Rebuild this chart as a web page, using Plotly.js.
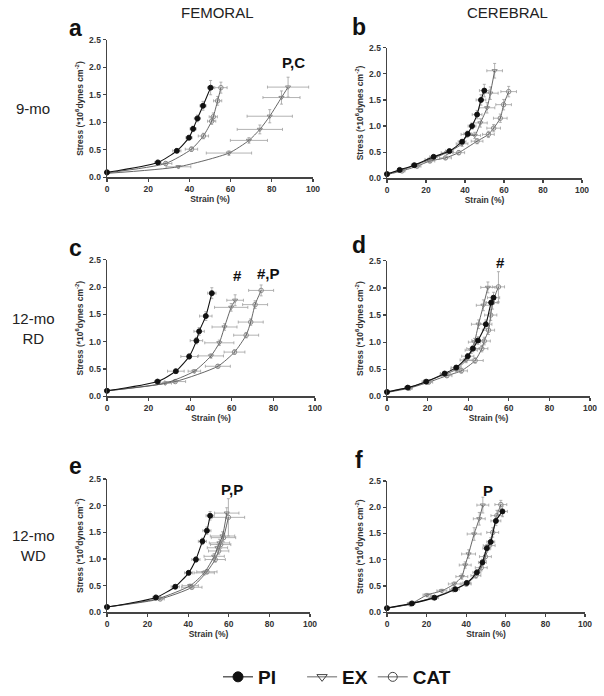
<!DOCTYPE html>
<html>
<head>
<meta charset="utf-8">
<script src="https://cdn.plot.ly/plotly-3.0.1.min.js"></script>
<style>html,body{margin:0;padding:0;background:#fff;}#chart{width:604px;height:696px;}</style>
</head>
<body>
<div id="chart"></div>
<script>
// ---------- axis ticks ----------
const xTickVals = [0, 20, 40, 60, 80, 100];
const yTickVals = [0, 0.5, 1, 1.5, 2, 2.5];
const yTickText = ['0.0', '0.5', '1.0', '1.5', '2.0', '2.5'];
const groupNames = ['PI', 'EX', 'CAT'];
const panelLetters = ['a', 'b', 'c', 'd', 'e', 'f'];
const columnTitles = ['FEMORAL', 'CEREBRAL'];
const rowTitles = ['9-mo', '12-mo<br>RD', '12-mo<br>WD'];

// ---------- a: femoral 9-mo ----------
const a_PI_x  = [0, 24.7, 33.9, 39.8, 41.8, 43.9, 46.6, 50.3];
const a_PI_y  = [0.09, 0.27, 0.48, 0.72, 0.88, 1.07, 1.30, 1.63];
const a_PI_ex = [0, 1.5, 2, 1.5, 1.5, 1.5, 1.5, 1.5];
const a_PI_ey = [0, 0.02, 0.03, 0.04, 0.05, 0.06, 0.08, 0.13];
const a_EX_x  = [0, 34.7, 59.2, 68.9, 74.2, 79, 84.7, 87.9];
const a_EX_y  = [0.07, 0.19, 0.44, 0.67, 0.87, 1.11, 1.45, 1.64];
const a_EX_ex = [0, 6, 11, 9, 11, 11, 9, 10];
const a_EX_ey = [0, 0.02, 0.04, 0.05, 0.08, 0.12, 0.12, 0.18];
const a_CAT_x  = [0, 28.5, 41, 46.8, 50.8, 51.6, 53.7, 55.3];
const a_CAT_y  = [0.08, 0.25, 0.51, 0.75, 1.02, 1.10, 1.39, 1.63];
const a_CAT_ex = [0, 3, 3, 2.5, 2, 2, 2, 3];
const a_CAT_ey = [0, 0.03, 0.04, 0.05, 0.06, 0.07, 0.08, 0.1];

// ---------- b: cerebral 9-mo ----------
const b_PI_x  = [0, 6.5, 14, 23.9, 32, 38.5, 41.4, 43.6, 46.2, 48.2, 49.9];
const b_PI_y  = [0.08, 0.16, 0.25, 0.41, 0.52, 0.70, 0.85, 1.0, 1.22, 1.50, 1.68];
const b_PI_ex = [0, 1, 1.5, 2, 2, 2, 2, 2, 2.5, 2.5, 2.5];
const b_PI_ey = [0, 0.02, 0.02, 0.03, 0.03, 0.04, 0.05, 0.06, 0.08, 0.1, 0.12];
const b_EX_x  = [0, 7.7, 14.5, 22, 30.8, 38.5, 41, 45, 47.9, 51.3, 53, 55.2];
const b_EX_y  = [0.08, 0.16, 0.25, 0.36, 0.49, 0.66, 0.84, 0.82, 1.06, 1.35, 1.63, 2.06];
const b_EX_ex = [0, 1.5, 2, 2.5, 3, 3, 3, 3, 3.5, 4, 4, 4];
const b_EX_ey = [0, 0.02, 0.03, 0.03, 0.04, 0.05, 0.06, 0.06, 0.08, 0.1, 0.12, 0.14];
const b_CAT_x  = [0, 7.7, 15.4, 22, 30, 36.8, 46.2, 52, 54.7, 58.1, 59.8, 62.4];
const b_CAT_y  = [0.07, 0.14, 0.23, 0.33, 0.39, 0.49, 0.71, 0.84, 0.96, 1.15, 1.41, 1.66];
const b_CAT_ex = [0, 1.5, 2, 2.5, 3, 3, 3, 3, 3.5, 3.5, 4, 4];
const b_CAT_ey = [0, 0.02, 0.02, 0.03, 0.03, 0.04, 0.05, 0.06, 0.07, 0.08, 0.1, 0.1];

// ---------- c: femoral 12-mo RD ----------
const c_PI_x  = [0, 24.3, 33.1, 39.5, 43, 44.3, 47.5, 50.4];
const c_PI_y  = [0.10, 0.27, 0.46, 0.73, 1.02, 1.19, 1.47, 1.89];
const c_PI_ex = [0, 1.5, 4, 4, 3, 2.5, 3, 2];
const c_PI_ey = [0, 0.02, 0.03, 0.05, 0.06, 0.07, 0.08, 0.1];
const c_EX_x  = [0, 28, 42, 50, 54, 56.5, 59.7, 61.6];
const c_EX_y  = [0.10, 0.24, 0.46, 0.74, 0.98, 1.27, 1.63, 1.76];
const c_EX_ex = [0, 3, 3, 6, 7, 6, 8, 4];
const c_EX_ey = [0, 0.02, 0.03, 0.04, 0.05, 0.06, 0.07, 0.1];
const c_CAT_x  = [0, 32.8, 53.3, 61.3, 66.9, 69.1, 71.2, 74.1];
const c_CAT_y  = [0.10, 0.27, 0.55, 0.81, 1.12, 1.36, 1.68, 1.94];
const c_CAT_ex = [0, 5, 6, 5, 6, 6, 6, 6];
const c_CAT_ey = [0, 0.02, 0.03, 0.04, 0.05, 0.06, 0.07, 0.1];

// ---------- d: cerebral 12-mo RD ----------
const d_PI_x  = [0, 10.2, 19.3, 28.4, 34.1, 39.8, 42.3, 44.8, 48.7, 51.3, 52.5];
const d_PI_y  = [0.08, 0.16, 0.27, 0.42, 0.53, 0.74, 0.88, 1.03, 1.33, 1.73, 1.82];
const d_PI_ex = [0, 1.5, 2, 2, 2.5, 3, 3, 3, 3, 3, 3];
const d_PI_ey = [0, 0.02, 0.02, 0.03, 0.04, 0.05, 0.06, 0.07, 0.08, 0.1, 0.1];
const d_EX_x  = [0, 10.7, 20, 28.7, 34.4, 39, 41.5, 43.1, 45.1, 47.5, 49.7];
const d_EX_y  = [0.08, 0.16, 0.28, 0.41, 0.50, 0.67, 0.85, 1.0, 1.33, 1.68, 2.01];
const d_EX_ex = [0, 1.5, 2, 2.5, 3, 3, 3, 3, 3.5, 3.5, 3.5];
const d_EX_ey = [0, 0.02, 0.02, 0.03, 0.04, 0.05, 0.06, 0.07, 0.08, 0.1, 0.1];
const d_CAT_x  = [0, 11, 20.5, 29.5, 36.6, 43.4, 46.7, 47.9, 50, 51.1, 52, 54.9];
const d_CAT_y  = [0.07, 0.15, 0.26, 0.38, 0.47, 0.66, 0.88, 1.02, 1.22, 1.50, 1.73, 2.02];
const d_CAT_ex = [0, 1.5, 2, 2.5, 3, 4, 3, 3, 3, 3, 3, 3];
const d_CAT_ey = [0, 0.02, 0.02, 0.03, 0.04, 0.05, 0.06, 0.07, 0.08, 0.1, 0.12, 0.28];

// ---------- e: femoral 12-mo WD ----------
const e_PI_x  = [0, 24.1, 33.6, 40.2, 43.8, 47, 49.2, 50.8];
const e_PI_y  = [0.10, 0.28, 0.48, 0.74, 0.99, 1.33, 1.53, 1.81];
const e_PI_ex = [0, 1.5, 2, 2, 2, 2, 2, 2];
const e_PI_ey = [0, 0.02, 0.03, 0.04, 0.05, 0.06, 0.07, 0.08];
const e_EX_x  = [0, 25.4, 41, 47.9, 52.8, 54.4, 55.4, 56.9, 59];
const e_EX_y  = [0.10, 0.26, 0.50, 0.74, 1.05, 1.21, 1.30, 1.43, 1.86];
const e_EX_ex = [0, 2, 4, 5, 5, 5, 5, 6, 6];
const e_EX_ey = [0, 0.02, 0.03, 0.04, 0.05, 0.06, 0.07, 0.08, 0.1];
const e_CAT_x  = [0, 26.2, 41.8, 49.2, 53.3, 55, 56, 57.4, 59.8];
const e_CAT_y  = [0.10, 0.25, 0.47, 0.76, 0.99, 1.15, 1.27, 1.40, 1.78];
const e_CAT_ex = [0, 2, 5, 5, 5, 5, 5, 6, 8];
const e_CAT_ey = [0, 0.02, 0.03, 0.04, 0.05, 0.06, 0.07, 0.08, 0.35];

// ---------- f: cerebral 12-mo WD ----------
const f_PI_x  = [0, 12.6, 24, 34.5, 40.3, 45.4, 48.2, 50.4, 52.4, 55, 58.3];
const f_PI_y  = [0.08, 0.17, 0.28, 0.44, 0.56, 0.76, 0.95, 1.22, 1.34, 1.74, 1.92];
const f_PI_ex = [0, 1.5, 2, 2, 2, 2, 2, 2, 2, 2.5, 2.5];
const f_PI_ey = [0, 0.02, 0.02, 0.03, 0.04, 0.05, 0.06, 0.07, 0.08, 0.09, 0.1];
const f_EX_x  = [0, 11.8, 20.2, 27.7, 34, 37.8, 39.5, 41.2, 44, 46.6, 48.4];
const f_EX_y  = [0.08, 0.16, 0.33, 0.41, 0.54, 0.68, 0.90, 1.11, 1.49, 1.78, 2.04];
const f_EX_ex = [0, 1.5, 2, 2.5, 3, 3, 3, 3.5, 3.5, 3, 3];
const f_EX_ey = [0, 0.02, 0.03, 0.03, 0.04, 0.05, 0.06, 0.08, 0.12, 0.12, 0.15];
const f_CAT_x  = [0, 11.8, 23.2, 33.6, 40, 44.9, 47.6, 49.7, 51.6, 53.4, 55.5, 57.5];
const f_CAT_y  = [0.08, 0.16, 0.28, 0.43, 0.54, 0.70, 0.85, 1.06, 1.27, 1.52, 1.84, 2.05];
const f_CAT_ex = [0, 1.5, 2, 2, 2.5, 2.5, 3, 3, 3, 3, 3, 3];
const f_CAT_ey = [0, 0.02, 0.02, 0.03, 0.04, 0.05, 0.06, 0.07, 0.08, 0.09, 0.1, 0.08];

const panels = [
  {PI: [a_PI_x, a_PI_y, a_PI_ex, a_PI_ey], EX: [a_EX_x, a_EX_y, a_EX_ex, a_EX_ey], CAT: [a_CAT_x, a_CAT_y, a_CAT_ex, a_CAT_ey]},
  {PI: [b_PI_x, b_PI_y, b_PI_ex, b_PI_ey], EX: [b_EX_x, b_EX_y, b_EX_ex, b_EX_ey], CAT: [b_CAT_x, b_CAT_y, b_CAT_ex, b_CAT_ey]},
  {PI: [c_PI_x, c_PI_y, c_PI_ex, c_PI_ey], EX: [c_EX_x, c_EX_y, c_EX_ex, c_EX_ey], CAT: [c_CAT_x, c_CAT_y, c_CAT_ex, c_CAT_ey]},
  {PI: [d_PI_x, d_PI_y, d_PI_ex, d_PI_ey], EX: [d_EX_x, d_EX_y, d_EX_ex, d_EX_ey], CAT: [d_CAT_x, d_CAT_y, d_CAT_ex, d_CAT_ey]},
  {PI: [e_PI_x, e_PI_y, e_PI_ex, e_PI_ey], EX: [e_EX_x, e_EX_y, e_EX_ex, e_EX_ey], CAT: [e_CAT_x, e_CAT_y, e_CAT_ex, e_CAT_ey]},
  {PI: [f_PI_x, f_PI_y, f_PI_ex, f_PI_ey], EX: [f_EX_x, f_EX_y, f_EX_ex, f_EX_ey], CAT: [f_CAT_x, f_CAT_y, f_CAT_ex, f_CAT_ey]}
];

// ---------- layout geometry (pixels, figure 604 x 696) ----------
const W = 604, H = 696;
const boxes = [ // [left, right, top(2.5), bottom(0)]
  [107, 313, 40, 178],
  [387, 582, 48, 179],
  [107, 315, 261, 398],
  [387, 590, 262, 398],
  [107, 310, 481, 615],
  [387, 585, 483, 615]
];

const styles = {
  PI:  {symbol: 'circle', color: '#111', line: '#111', lw: 1.1},
  EX:  {symbol: 'triangle-down-open', color: '#808080', line: '#555', lw: 0.9},
  CAT: {symbol: 'circle-open', color: '#808080', line: '#555', lw: 0.9}
};

const traces = [];
panels.forEach((p, i) => {
  const xa = i === 0 ? 'x' : 'x' + (i + 1);
  const ya = i === 0 ? 'y' : 'y' + (i + 1);
  ['CAT', 'EX', 'PI'].forEach(g => {
    const d = p[g], s = styles[g];
    traces.push({
      type: 'scatter', mode: 'lines+markers', xaxis: xa, yaxis: ya,
      x: d[0], y: d[1], showlegend: false, cliponaxis: false,
      line: {color: s.line, width: s.lw, shape: 'spline', smoothing: 0.6},
      marker: {symbol: s.symbol, size: g === 'PI' ? 5 : 4.5, color: s.color, line: {color: s.color, width: 0.9}},
      error_x: {type: 'data', array: d[2], visible: true, color: '#a0a0a0', thickness: 0.8, width: 1.5},
      error_y: {type: 'data', array: d[3], visible: true, color: '#a0a0a0', thickness: 0.8, width: 1.5}
    });
  });
});

// legend-only traces
const legendNames = ['PI\u00a0\u00a0\u00a0\u00a0', 'EX', 'CAT'];
groupNames.forEach((g, k) => {
  const s = styles[g];
  traces.push({
    type: 'scatter', mode: 'lines+markers', x: [null], y: [null], name: legendNames[k],
    xaxis: 'x', yaxis: 'y', showlegend: true,
    line: {color: g === 'PI' ? '#111' : '#666', width: 1},
    marker: {symbol: s.symbol, size: g === 'PI' ? 10 : 9, color: g === 'PI' ? '#111' : '#444', line: {color: g === 'PI' ? '#111' : '#444', width: 1}}
  });
});

const FAM = 'Liberation Sans, Arial, sans-serif';
const tickFont = {family: FAM, size: 8.5, color: '#333', weight: 'bold'};
const layout = {
  width: W, height: H,
  margin: {l: 0, r: 0, t: 0, b: 0},
  paper_bgcolor: '#fff', plot_bgcolor: 'rgba(0,0,0,0)',
  showlegend: true,
  legend: {
    orientation: 'h', x: 218 / W, xanchor: 'left', y: 1 - 680 / H, yanchor: 'middle',
    font: {family: FAM, size: 19, color: '#111', weight: 'bold'},
    itemwidth: 30, tracegroupgap: 0, bgcolor: 'rgba(0,0,0,0)'
  },
  annotations: [],
  font: {family: FAM}
};

boxes.forEach((b, i) => {
  const n = i === 0 ? '' : (i + 1);
  layout['xaxis' + n] = {
    domain: [b[0] / W, b[1] / W], anchor: 'y' + n, range: [0, 100],
    tickvals: xTickVals, ticks: 'outside', ticklen: 3, tickwidth: 1.2, tickcolor: '#444',
    showline: true, linecolor: '#444', linewidth: 1.4, showgrid: false, zeroline: false,
    tickfont: tickFont, automargin: false, fixedrange: true,
    title: {text: 'Strain (%)', font: tickFont, standoff: 2}
  };
  layout['yaxis' + n] = {
    domain: [1 - b[3] / H, 1 - b[2] / H], anchor: 'x' + n, range: [0, 2.5],
    tickvals: yTickVals, ticktext: yTickText, ticks: 'outside', ticklen: 3, tickwidth: 1.2, tickcolor: '#444',
    showline: true, linecolor: '#444', linewidth: 1.4, showgrid: false, zeroline: false,
    tickfont: tickFont, automargin: false, fixedrange: true,
    title: {text: 'Stress (*10<sup>6</sup>dynes cm<sup>-2</sup>)', font: tickFont, standoff: 4}
  };
  layout.annotations.push({
    xref: 'paper', yref: 'paper', x: (i % 2 === 0 ? 75 : 359) / W,
    y: 1 - [28, 27, 249, 246, 468, 462][i] / H,
    text: panelLetters[i], showarrow: false, xanchor: 'center', yanchor: 'middle',
    font: {family: FAM, size: 23, color: '#111', weight: 'bold'}
  });
});

// significance marks
const markText = ['P,C', '#', '#,P', '#', 'P,P', 'P'];
const markPos = [[293, 63], [237, 277], [268, 275], [500, 264], [232, 492], [488, 493]];
markPos.forEach((m, i) => {
  layout.annotations.push({
    xref: 'paper', yref: 'paper', x: m[0] / W, y: 1 - m[1] / H, text: markText[i],
    showarrow: false, xanchor: 'center', yanchor: 'middle',
    font: {family: FAM, size: 15, color: '#111', weight: 'bold'}
  });
});

// column titles
[[217, 13], [507, 13]].forEach((p, i) => {
  layout.annotations.push({
    xref: 'paper', yref: 'paper', x: p[0] / W, y: 1 - p[1] / H, text: columnTitles[i],
    showarrow: false, xanchor: 'center', yanchor: 'middle',
    font: {family: FAM, size: 15, color: '#222'}
  });
});
// row titles
[109, 330, 548].forEach((yy, i) => {
  layout.annotations.push({
    xref: 'paper', yref: 'paper', x: 33 / W, y: 1 - yy / H, text: rowTitles[i],
    showarrow: false, xanchor: 'center', yanchor: 'middle',
    font: {family: FAM, size: 15, color: '#222'}
  });
});

Plotly.newPlot('chart', traces, layout, {staticPlot: true, displayModeBar: false});
</script>
</body>
</html>
